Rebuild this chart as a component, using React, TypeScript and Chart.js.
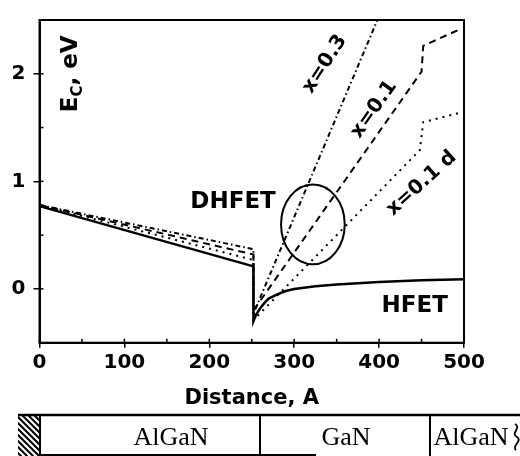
import React, { useEffect, useRef } from 'react';
import { Chart, registerables } from 'chart.js';

Chart.register(...registerables);

// ---- data ----
const hfetX = [0, 252, 252, 255, 260, 265, 270, 280, 290, 300, 325, 350, 400, 450, 500];
const hfetY = [0.77, 0.21, -0.3, -0.24, -0.18, -0.13, -0.09, -0.05, -0.02, 0.0, 0.025, 0.04, 0.065, 0.08, 0.09];

const x03X = [0, 252, 252, 398];
const x03Y = [0.78, 0.37, -0.23, 2.5];

const x01X = [0, 252, 252, 450, 452, 494];
const x01Y = [0.78, 0.32, -0.2, 2.02, 2.26, 2.41];

const x01dX = [0, 252, 252, 448, 452, 496];
const x01dY = [0.78, 0.27, -0.29, 1.29, 1.55, 1.64];

const xTickLabels = [0, 100, 200, 300, 400, 500];
const yTickLabels = [0, 1, 2];

const layerNames = ['AlGaN', 'GaN', 'AlGaN'];

// annotation config (data coordinates)
const curveLabels = [
  { text: 'x=0.3', x: 336, y: 2.09, angle: -57 },
  { text: 'x=0.1', x: 394, y: 1.67, angle: -55 },
  { text: 'x=0.1 d', x: 450, y: 0.98, angle: -42 },
];
const plainLabels = [
  { text: 'DHFET', x: 228, y: 0.81 },
  { text: 'HFET', x: 442, y: -0.16 },
];
const ellipse = { cx: 322, cy: 0.6, rx: 37.5, ry: 0.37 };

const SANS = '"DejaVu Sans", sans-serif';
const SERIF = '"Liberation Serif", "Times New Roman", serif';

const pts = (xs: number[], ys: number[]) => xs.map((x, i) => ({ x, y: ys[i] }));

export default function App() {
  const ref = useRef<HTMLCanvasElement>(null);

  useEffect(() => {
    document.body.style.margin = '0';
    const canvas = ref.current!;

    const overlay = {
      id: 'overlay',
      afterDraw(chart: any) {
        const { ctx, chartArea: a, scales } = chart;
        const xs = scales.x;
        const ys = scales.y;
        ctx.save();
        ctx.fillStyle = '#000';
        ctx.strokeStyle = '#000';

        // frame
        ctx.lineWidth = 2;
        ctx.strokeRect(a.left, a.top, a.right - a.left, a.bottom - a.top);

        // inward ticks
        ctx.lineWidth = 1.5;
        xs.ticks.forEach((t: any) => {
          const px = xs.getPixelForValue(t.value);
          ctx.beginPath();
          ctx.moveTo(px, a.bottom);
          ctx.lineTo(px, a.bottom - 4);
          ctx.stroke();
        });
        ys.ticks.forEach((t: any) => {
          const py = ys.getPixelForValue(t.value);
          ctx.beginPath();
          ctx.moveTo(a.left, py);
          ctx.lineTo(a.left + 4, py);
          ctx.stroke();
        });

        // ellipse
        const ecx = xs.getPixelForValue(ellipse.cx);
        const ecy = ys.getPixelForValue(ellipse.cy);
        const erx = Math.abs(xs.getPixelForValue(ellipse.cx + ellipse.rx) - ecx);
        const ery = Math.abs(ys.getPixelForValue(ellipse.cy + ellipse.ry) - ecy);
        ctx.lineWidth = 2;
        ctx.beginPath();
        ctx.ellipse(ecx, ecy, erx, ery, 0, 0, Math.PI * 2);
        ctx.stroke();

        // rotated curve labels
        ctx.font = `bold 20px ${SANS}`;
        ctx.textAlign = 'center';
        ctx.textBaseline = 'middle';
        curveLabels.forEach((l) => {
          ctx.save();
          ctx.translate(xs.getPixelForValue(l.x), ys.getPixelForValue(l.y));
          ctx.rotate((l.angle * Math.PI) / 180);
          ctx.fillText(l.text, 0, 0);
          ctx.restore();
        });

        // plain labels
        ctx.font = `bold 23px ${SANS}`;
        plainLabels.forEach((l) => {
          ctx.fillText(l.text, xs.getPixelForValue(l.x), ys.getPixelForValue(l.y));
        });

        // y title E_C, eV (rotated, inside plot)
        ctx.save();
        ctx.translate(xs.getPixelForValue(44), ys.getPixelForValue(2.0));
        ctx.rotate(-Math.PI / 2);
        ctx.textAlign = 'left';
        ctx.textBaseline = 'alphabetic';
        const mainF = `bold 23px ${SANS}`;
        const subF = `bold 15px ${SANS}`;
        ctx.font = mainF;
        const wE = ctx.measureText('E').width;
        const wRest = ctx.measureText(', eV').width;
        ctx.font = subF;
        const wC = ctx.measureText('C').width;
        const start = -(wE + wC + wRest) / 2;
        ctx.font = mainF;
        ctx.fillText('E', start, 0);
        ctx.font = subF;
        ctx.fillText('C', start + wE, 5);
        ctx.font = mainF;
        ctx.fillText(', eV', start + wE + wC, 0);
        ctx.restore();

        // layer diagram under the chart
        const top = 415;
        const bot = 455;
        // hatched substrate
        ctx.save();
        ctx.beginPath();
        ctx.rect(18, top, 22, 456 - top);
        ctx.clip();
        ctx.lineWidth = 2;
        for (let k = -50; k < 40; k += 6) {
          ctx.beginPath();
          ctx.moveTo(18 + k, top);
          ctx.lineTo(18 + k + 45, top + 45);
          ctx.stroke();
        }
        ctx.restore();

        ctx.lineWidth = 2.5;
        ctx.beginPath();
        ctx.moveTo(18, top);
        ctx.lineTo(520, top);
        ctx.stroke();
        ctx.lineWidth = 2;
        [40, 260, 430].forEach((vx) => {
          ctx.beginPath();
          ctx.moveTo(vx, top);
          ctx.lineTo(vx, 456);
          ctx.stroke();
        });
        ctx.beginPath();
        ctx.moveTo(40, bot);
        ctx.lineTo(316, bot);
        ctx.stroke();
        // break mark on the right
        ctx.lineWidth = 1.8;
        ctx.beginPath();
        ctx.moveTo(515, 424);
        ctx.bezierCurveTo(522, 428, 510, 433, 517, 437);
        ctx.bezierCurveTo(523, 441, 511, 446, 516, 450);
        ctx.stroke();

        ctx.font = `26px ${SERIF}`;
        ctx.textAlign = 'center';
        ctx.textBaseline = 'alphabetic';
        const centers = [171, 346, 471];
        layerNames.forEach((n, i) => ctx.fillText(n, centers[i], 445));

        ctx.restore();
      },
    };

    const chart = new Chart(canvas, {
      type: 'scatter',
      data: {
        datasets: [
          {
            label: 'HFET',
            data: pts(hfetX, hfetY),
            showLine: true,
            borderColor: '#000',
            borderWidth: 2.5,
            pointRadius: 0,
            tension: 0,
          },
          {
            label: 'x=0.3',
            data: pts(x03X, x03Y),
            showLine: true,
            borderColor: '#000',
            borderWidth: 2,
            borderDash: [5, 3, 1.5, 3],
            pointRadius: 0,
          },
          {
            label: 'x=0.1',
            data: pts(x01X, x01Y),
            showLine: true,
            borderColor: '#000',
            borderWidth: 2,
            borderDash: [7, 5],
            pointRadius: 0,
          },
          {
            label: 'x=0.1 d',
            data: pts(x01dX, x01dY),
            showLine: true,
            borderColor: '#000',
            borderWidth: 2,
            borderDash: [2, 5],
            pointRadius: 0,
          },
        ],
      },
      options: {
        responsive: false,
        animation: false,
        layout: { padding: { left: 0, right: 56, top: 12, bottom: 43.3 } },
        plugins: {
          legend: { display: false },
          tooltip: { enabled: false },
        },
        scales: {
          x: {
            type: 'linear',
            min: 0,
            max: 500,
            afterFit: (s: any) => {
              s.height = 70;
            },
            ticks: {
              stepSize: 50,
              autoSkip: false,
              maxRotation: 0,
              padding: 3,
              color: '#000',
              font: { family: SANS, size: 20, weight: 'bold' },
              callback: (v: any) => (xTickLabels.includes(v) ? String(v) : ''),
            },
            grid: {
              drawOnChartArea: false,
              tickLength: 5,
              lineWidth: 1.5,
              color: (c: any) => (c.tick && xTickLabels.includes(c.tick.value) ? '#000' : 'rgba(0,0,0,0)'),
            },
            border: { display: true, color: '#000', width: 2 },
            title: {
              display: true,
              text: 'Distance, A',
              color: '#000',
              font: { family: SANS, size: 21, weight: 'bold' },
              padding: { top: 0, bottom: 2 },
            },
          },
          y: {
            type: 'linear',
            min: -0.5,
            max: 2.5,
            afterFit: (s: any) => {
              s.width = 39.5;
            },
            ticks: {
              stepSize: 0.5,
              autoSkip: false,
              padding: 8,
              color: '#000',
              font: { family: SANS, size: 20, weight: 'bold' },
              callback: (v: any) => (yTickLabels.includes(v) ? String(v) : ''),
            },
            grid: {
              drawOnChartArea: false,
              tickLength: 6,
              lineWidth: 1.5,
              color: (c: any) => (c.tick && yTickLabels.includes(c.tick.value) ? '#000' : 'rgba(0,0,0,0)'),
            },
            border: { display: true, color: '#000', width: 2 },
          },
        },
      },
      plugins: [overlay],
    } as any);

    return () => chart.destroy();
  }, []);

  return (
    <canvas
      ref={ref}
      width={520}
      height={456}
      style={{ display: 'block', width: 520, height: 456 }}
    />
  );
}
